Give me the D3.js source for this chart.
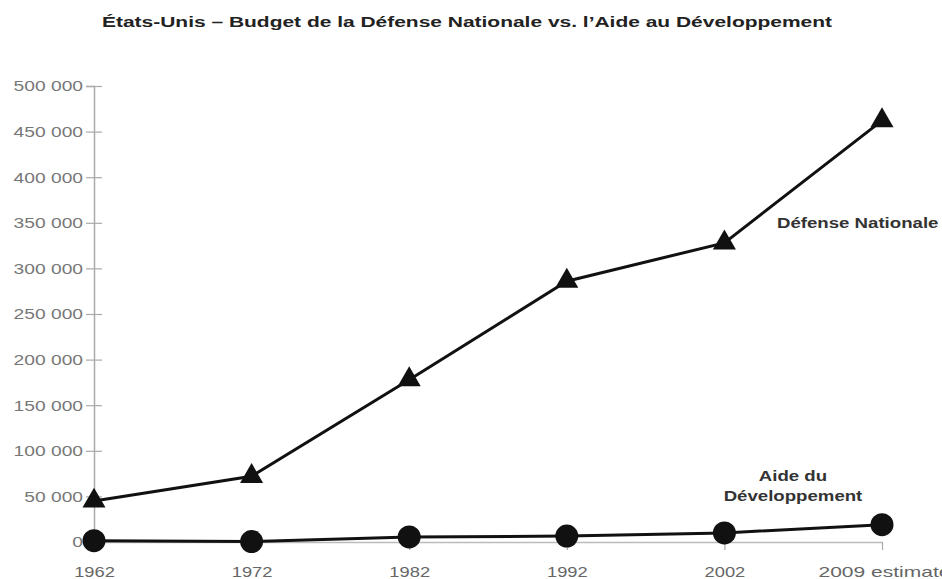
<!DOCTYPE html>
<html><head><meta charset="utf-8">
<script src="https://cdn.jsdelivr.net/npm/d3@7"></script>
<style>body{margin:0;background:#fff}svg{display:block}</style>
</head><body>
<svg id="c" width="942" height="579"></svg>
<script>
const years = ["1962","1972","1982","1992","2002","2009 estimate"];
const defense = [45000, 72000, 178000, 286000, 328000, 462000];
const aid = [1500, 500, 5500, 6500, 10000, 19000];
const yTicks = [0,50000,100000,150000,200000,250000,300000,350000,400000,450000,500000];
const title = "États-Unis – Budget de la Défense Nationale vs. l’Aide au Développement";

const FONT = "Liberation Sans, Arial, sans-serif";
const svg = d3.select("#c");
const x = d3.scalePoint().domain(years).range([94, 882]);
const y = d3.scaleLinear().domain([0, 500000]).range([542, 86]);
const fmt = v => d3.format(",")(v).replace(/,/g, " ");
function stretch(sel, f) {
  sel.each(function() {
    const len = this.getComputedTextLength();
    d3.select(this).attr("textLength", len * f).attr("lengthAdjust", "spacingAndGlyphs");
  });
}

svg.append("text").attr("x", 467).attr("y", 27).attr("text-anchor","middle")
  .attr("font-family",FONT).attr("font-weight","bold")
  .attr("font-size",14.5).attr("fill","#222").attr("textLength",730).attr("lengthAdjust","spacingAndGlyphs")
  .text(title);

const yAxis = svg.append("g").attr("transform","translate(94,0)")
  .call(d3.axisLeft(y).tickValues(yTicks).tickFormat(fmt).tickSizeOuter(0).tickSize(8).tickPadding(4));
yAxis.select(".domain").attr("stroke","#aaa").attr("stroke-width",1.5);
yAxis.selectAll(".tick line").attr("stroke","#aaa").attr("x2",-8).attr("x1",8).attr("stroke-width",1.2);
yAxis.selectAll(".tick text").attr("fill","#777").attr("font-family",FONT)
  .attr("font-size",15).attr("x",-11);
stretch(yAxis.selectAll(".tick text"), 1.28);

const xAxis = svg.append("g").attr("transform","translate(0,542)")
  .call(d3.axisBottom(x).tickSize(8).tickSizeOuter(0).tickPadding(19));
xAxis.select(".domain").attr("stroke","#bbb").attr("stroke-width",1.5);
xAxis.selectAll(".tick line").attr("stroke","#aaa").attr("stroke-width",1.2);
xAxis.selectAll(".tick text").attr("fill","#666").attr("font-family",FONT)
  .attr("font-size",15).attr("dy","0.55em");
stretch(xAxis.selectAll(".tick text"), 1.22);
xAxis.selectAll(".tick text").filter(d => d === "2009 estimate")
  .attr("text-anchor","start").attr("dx",-64).attr("textLength",132);

const line = d3.line().x((d,i)=>x(years[i])).y(d=>y(d));
svg.append("path").datum(defense).attr("d",line).attr("fill","none").attr("stroke","#111").attr("stroke-width",3);
svg.append("path").datum(aid).attr("d",line).attr("fill","none").attr("stroke","#111").attr("stroke-width",3);

svg.append("g").selectAll("path").data(defense).join("path")
  .attr("transform",(d,i)=>`translate(${x(years[i])},${y(d)})`)
  .attr("d", d3.symbol(d3.symbolTriangle, 230)).attr("fill","#111");
svg.append("g").selectAll("circle").data(aid).join("circle")
  .attr("cx",(d,i)=>x(years[i])).attr("cy",d=>y(d)).attr("r",11.5).attr("fill","#111");

const ann = svg.append("g").attr("font-family",FONT).attr("font-weight","bold")
  .attr("font-size",14).attr("fill","#333");
ann.append("text").attr("x",777).attr("y",228).text("Défense Nationale");
ann.append("text").attr("x",793).attr("y",481).attr("text-anchor","middle").text("Aide du");
ann.append("text").attr("x",793).attr("y",501).attr("text-anchor","middle").text("Développement");
stretch(ann.selectAll("text"), 1.33);
</script>
</body></html>
